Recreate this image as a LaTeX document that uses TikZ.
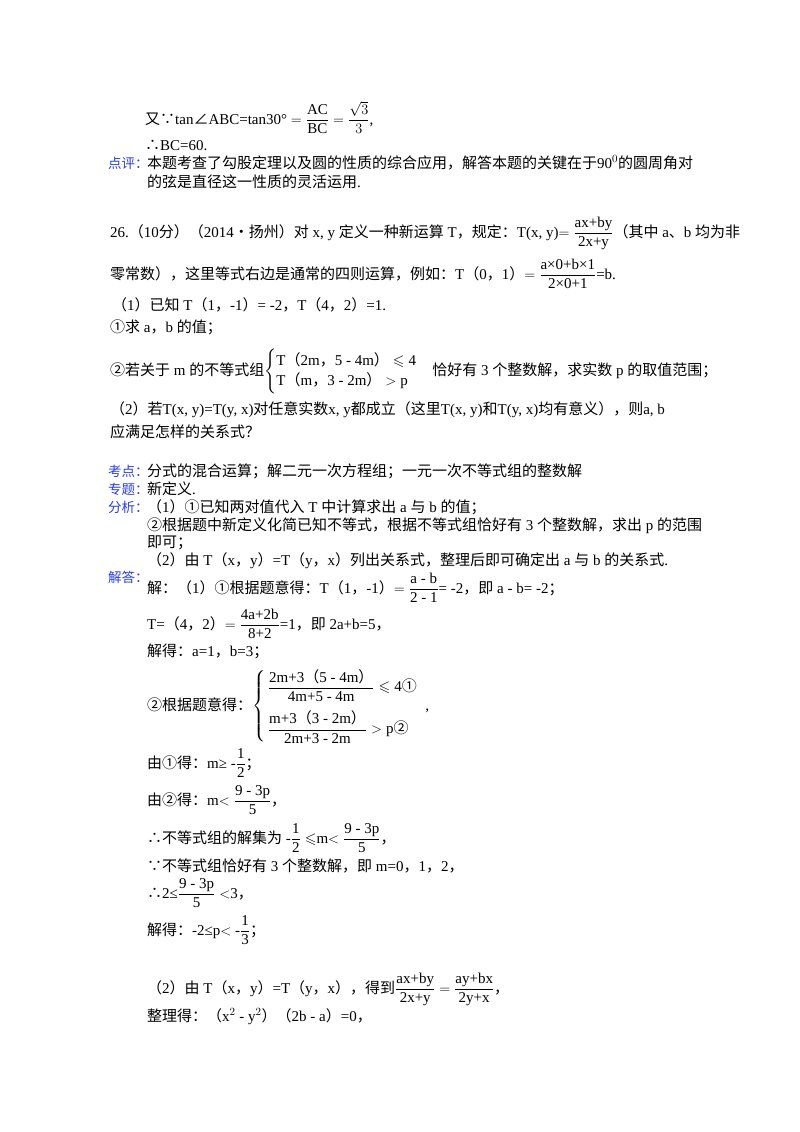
\documentclass[tikz,border=0pt]{standalone}
\usepackage{amsmath,amssymb}
\usepackage{fontspec}
\setmainfont{Liberation Serif}
\newfontfamily\cjk{Noto Sans CJK SC}
\newcommand\zh[1]{{\cjk #1}}
\newcommand\fr[2]{\dfrac{\text{#1}}{\text{#2}}}
\definecolor{lblue}{RGB}{40,60,235}
\begin{document}
\begin{tikzpicture}[x=1pt,y=-1pt,every node/.style={anchor=base west,inner sep=0pt,font=\fontsize{15}{17}\selectfont},
lab/.style={text=lblue,font=\fontsize{13.5}{15}\selectfont}]
\useasboundingbox (0,0) rectangle (800,1132);
\node (l1) at (145,124) {\zh{又∵}tan\zh{∠}ABC=tan30° $=\fr{AC}{BC}=\dfrac{\sqrt3}{3}$,};
\node (l2) at (145,150) {\zh{∴}BC=60.};
\node[lab] (dp) at (108,168) {\zh{点评：}};
\node (l3) at (147,168) {\zh{本题考查了勾股定理以及圆的性质的综合应用，解答本题的关键在于}90$^0$\zh{的圆周角对}};
\node (l4) at (147,187) {\zh{的弦是直径这一性质的灵活运用}.};
\node (q1) at (110,237) {26.\zh{（}10\zh{分）（}2014\zh{•扬州）对} x, y \zh{定义一种新运算} T\zh{，规定：}T(x, y)$=\fr{ax+by}{2x+y}$\zh{（其中} a\zh{、}b \zh{均为非}};
\node (q2) at (110,279) {\zh{零常数），这里等式右边是通常的四则运算，例如：}T\zh{（}0\zh{，}1\zh{）}$=\fr{a×0+b×1}{2×0+1}$=b.};
\node (q3) at (112,310) {\zh{（}1\zh{）已知} T\zh{（}1\zh{，}-1\zh{）}= -2\zh{，}T\zh{（}4\zh{，}2\zh{）}=1.};
\node (q4) at (110,332) {\zh{①求} a\zh{，}b \zh{的值；}};
\node (q5) at (110,375) {\zh{②若关于} m \zh{的不等式组}$\begin{cases}\text{T\zh{（}2m\zh{，}5 - 4m\zh{）}}\leqslant \text{4}\\ \text{T\zh{（}m\zh{，}3 - 2m\zh{）}}>\text{p}\end{cases}$\zh{恰好有} 3 \zh{个整数解，求实数} p \zh{的取值范围；}};
\node (q6) at (110,414) {\zh{（}2\zh{）若}T(x, y)=T(y, x)\zh{对任意实数}x, y\zh{都成立（这里}T(x, y)\zh{和}T(y, x)\zh{均有意义），则}a, b};
\node (q7) at (110,437) {\zh{应满足怎样的关系式？}};
\node[lab] (kd) at (108,476) {\zh{考点：}};
\node (k1) at (147,476) {\zh{分式的混合运算；解二元一次方程组；一元一次不等式组的整数解}};
\node[lab] (zt) at (108,494) {\zh{专题：}};
\node (z1) at (147,494) {\zh{新定义}.};
\node[lab] (fx) at (108,512) {\zh{分析：}};
\node (f1) at (147,512) {\zh{（}1\zh{）①已知两对值代入} T \zh{中计算求出} a \zh{与} b \zh{的值；}};
\node (f2) at (147,530) {\zh{②根据题中新定义化简已知不等式，根据不等式组恰好有} 3 \zh{个整数解，求出} p \zh{的范围}};
\node (f3) at (147,547) {\zh{即可；}};
\node (f4) at (147,565) {\zh{（}2\zh{）由} T\zh{（}x\zh{，}y\zh{）}=T\zh{（}y\zh{，}x\zh{）}\zh{列出关系式，整理后即可确定出} a \zh{与} b \zh{的关系式}.};
\node[lab] (jd) at (108,582) {\zh{解答：}};
\node (s1) at (147,593) {\zh{解：（}1\zh{）①根据题意得：}T\zh{（}1\zh{，}-1\zh{）}$=\fr{a - b}{2 - 1}$= -2\zh{，即} a - b= -2\zh{；}};
\node (s2) at (147,629) {T=\zh{（}4\zh{，}2\zh{）}$=\fr{4a+2b}{8+2}$=1\zh{，即} 2a+b=5\zh{，}};
\node (s3) at (147,656) {\zh{解得：}a=1\zh{，}b=3\zh{；}};
\node (s4) at (147,710) {\zh{②根据题意得：}$\left\{\,\begin{array}{@{}l@{}}\fr{2m+3\zh{（}5 - 4m\zh{）}}{4m+5 - 4m}\leqslant\text{4\zh{①}}\\[14pt] \fr{m+3\zh{（}3 - 2m\zh{）}}{2m+3 - 2m}>\text{p\zh{②}}\end{array}\right.$\ \ ,};
\node (s5) at (147,768) {\zh{由①得：}m≥ -$\dfrac{\text{1}}{\text{2}}$\zh{；}};
\node (s6) at (147,805) {\zh{由②得：}m$<\fr{9 - 3p}{5}$\zh{，}};
\node (s7) at (147,843) {\zh{∴不等式组的解集为} -$\dfrac{\text{1}}{\text{2}}\leqslant$m$<\fr{9 - 3p}{5}$\zh{，}};
\node (s8) at (147,871) {\zh{∵不等式组恰好有} 3 \zh{个整数解，即} m=0\zh{，}1\zh{，}2\zh{，}};
\node (s9) at (147,898) {\zh{∴}2≤$\fr{9 - 3p}{5}<$3\zh{，}};
\node (s10) at (147,935) {\zh{解得：}-2≤p$<$ -$\dfrac{\text{1}}{\text{3}}$\zh{；}};
\node (s11) at (147,993) {\zh{（}2\zh{）由} T\zh{（}x\zh{，}y\zh{）}=T\zh{（}y\zh{，}x\zh{），得到}$\fr{ax+by}{2x+y}=\fr{ay+bx}{2y+x}$\zh{，}};
\node (s12) at (147,1021) {\zh{整理得：（}x$^2$ - y$^2$\zh{）（}2b - a\zh{）}=0\zh{，}};
\end{tikzpicture}
\end{document}
